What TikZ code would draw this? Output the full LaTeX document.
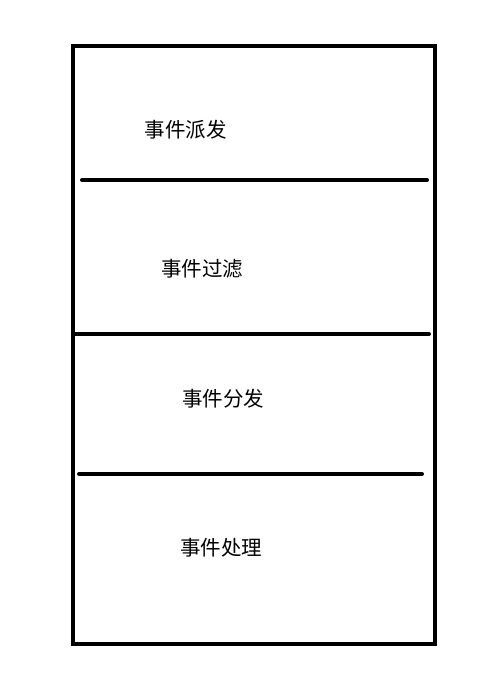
\documentclass[tikz,border=0pt]{standalone}
\usepackage{fontspec}
\newfontfamily\cjk{Noto Sans CJK SC}
\begin{document}
\begin{tikzpicture}[x=1pt,y=-1pt,
  frame/.style={line width=4pt},
  sep/.style={line width=4pt,line cap=round},
  lbl/.style={font=\cjk\fontsize{20.5pt}{24pt}\selectfont,inner sep=0pt,anchor=center}]
\useasboundingbox[fill=white] (0,0) rectangle (500,695);
\draw[frame] (73,46) rectangle (434.5,644);
\coordinate (s1a) at (82,180);
\coordinate (s1b) at (427,180);
\coordinate (s2a) at (75,334);
\coordinate (s2b) at (429,334);
\coordinate (s3a) at (79,474);
\coordinate (s3b) at (422,474);
\draw[sep] (s1a) -- (s1b);
\draw[sep] (s2a) -- (s2b);
\draw[sep] (s3a) -- (s3b);
\node[lbl] (t1) at (185.5,130) {事件派发};
\node[lbl] (t2) at (202,269) {事件过滤};
\node[lbl] (t3) at (223,399) {事件分发};
\node[lbl] (t4) at (221,548) {事件处理};
\end{tikzpicture}
\end{document}
